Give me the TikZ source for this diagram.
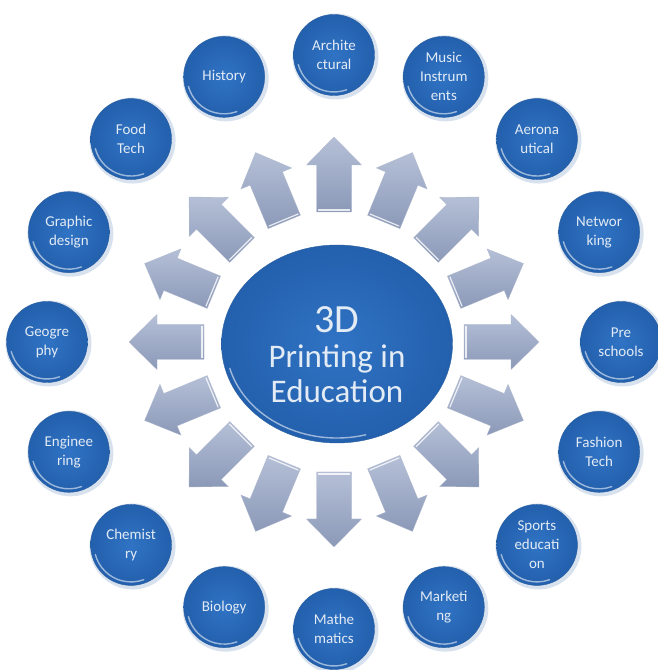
\documentclass[tikz,border=0pt]{standalone}
\usepackage{fontspec}
\setmainfont{Carlito}
\usetikzlibrary{calc,shapes.geometric}

\definecolor{ballblue}{HTML}{3073C4}
\definecolor{balldeep}{HTML}{2360AD}
\definecolor{balledge}{HTML}{2A5F9E}
\definecolor{labelwhite}{HTML}{E3EBF5}
\definecolor{arrowlight}{HTML}{B5C0D7}
\definecolor{arrowdark}{HTML}{8B99B8}
\definecolor{halo}{HTML}{D8E2EF}

\tikzset{
  ball/.style={circle, minimum size=81pt, inner sep=0pt, draw=balledge,
    line width=0.4pt, inner color=ballblue, outer color=balldeep,
    text=labelwhite, align=center, font=\fontsize{15}{19}\selectfont},
  hubshape/.style={ellipse, minimum width=231pt, minimum height=198pt,
    inner sep=0pt, draw=balledge, line width=0.4pt,
    inner color=ballblue, outer color=balldeep},
  hubtext/.style={text=labelwhite, align=center,
    font=\fontsize{33}{35}\selectfont},
  blockarrow/.style={top color=arrowlight, bottom color=arrowdark,
    draw=arrowdark!70!white, line width=0.3pt},
  gloss/.style={white, opacity=0.55, line width=1.4pt, line cap=round},
  shine/.style={white, opacity=0.8, line width=1.2pt}
}

\begin{document}
\begin{tikzpicture}[x=1pt,y=1pt]
  \useasboundingbox (0,0) rectangle (657,670);
  \fill[white] (0,0) rectangle (657,670);

  % centre of the ring of topics
  \coordinate (ring) at (334,328);

  % radiating block arrows
  \foreach \a in {0,22.5,...,337.5}{
    \begin{scope}[shift={(ring)}, rotate=\a]
      \path[blockarrow] (130,-17.5) -- (177,-17.5) -- (177,-27.5) -- (205,0)
        -- (177,27.5) -- (177,17.5) -- (130,17.5) -- cycle;
      \draw[shine] (132,-16) -- (132,16);
    \end{scope}
  }

  % central hub
  \node[hubshape] (hub) at (337,326) {};
  \draw[gloss] ($(hub.center)+(195:111 and 94)$)
     arc[start angle=195, end angle=285, x radius=111, y radius=94];
  \node[hubtext] (title) at (337,315.5)
     {{\fontsize{40}{40}\selectfont 3D}\\Printing in\\Education};

  % topic balls around the hub
  \foreach \a/\n/\lab in {
      90/arch/{Archite\\ctural},
      67.5/music/{Music\\Instrum\\ents},
      45/aero/{Aerona\\utical},
      22.5/net/{Networ\\king},
      0/pre/{Pre\\schools},
      -22.5/fashion/{Fashion\\Tech},
      -45/sports/{Sports\\educati\\on},
      -67.5/market/{Marketi\\ng},
      -90/math/{Mathe\\matics},
      -112.5/bio/{Biology},
      -135/chem/{Chemist\\ry},
      -157.5/eng/{Enginee\\ring},
      180/geo/{Geogre\\phy},
      157.5/graphic/{Graphic\\design},
      135/food/{Food\\Tech},
      112.5/hist/{History}}{
    \coordinate (p-\n) at ($(ring)+(\a:287)$);
    \fill[halo] ($(p-\n)+(1.5,-1.5)$) circle (43);
    \node[ball] (\n) at (p-\n) {\lab};
    \draw[gloss] ($(\n.center)+(195:37)$) arc[start angle=195, end angle=290, radius=37];
  }
\end{tikzpicture}
\end{document}
